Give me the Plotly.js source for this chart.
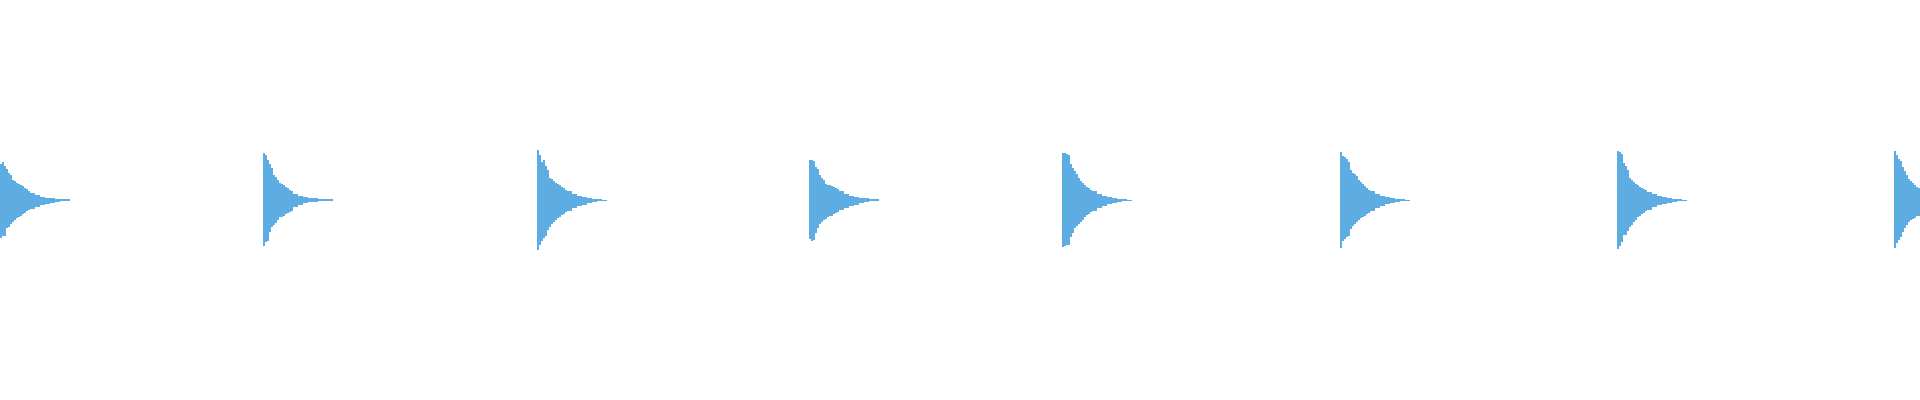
<!DOCTYPE html>
<html>
<head>
<meta charset="utf-8">
<script src="https://cdn.plot.ly/plotly-3.0.1.min.js"></script>
<style>
  html, body { margin: 0; padding: 0; background: #ffffff; }
  #wave { width: 1920px; height: 400px; }
</style>
</head>
<body>
<div id="wave"></div>
<script>
// Onset of each hit (frames) and the frame offsets where the envelope was read
const onsets = [0, 263, 537, 809, 1062, 1340, 1617, 1894];
const offsets = [0, 2, 4, 6, 8, 10, 12, 14, 16, 18, 20, 22, 24, 26, 28, 30, 35, 40, 45, 50, 55, 60, 65];
const tailEnd = 70;

// Envelope amplitudes, upper (positive) and lower (negative) side of each hit
const hit1Top    = [36, 38, 34, 31, 27, 25, 20, 19, 17, 16, 15, 14, 12, 11, 9, 7, 5, 3.5, 2.5, 2, 1.2, 1, 0.8];
const hit1Bottom = [38, 36, 36, 28, 27, 24, 22, 20, 18, 17, 16, 14, 12.5, 11, 10, 8.5, 7, 5, 4, 3, 1.5, 0.8, 0.5];
const hit2Top    = [47, 45, 40, 36, 32, 25, 23, 20, 17, 16, 15, 13, 12, 10, 9, 6, 4, 3, 2, 2, 1.5, 1, 1];
const hit2Bottom = [46, 42, 41, 32, 27, 25, 23, 20, 17, 16.5, 16, 14, 13, 11.5, 10.5, 7, 5, 3, 1.5, 1.5, 1, 0.5, 0.5];
const hit3Top    = [50, 45, 38, 40, 34, 30, 22, 21, 19, 17, 16, 15, 13, 12, 10.5, 9, 6, 4, 3, 2, 1.5, 1, 0.5];
const hit3Bottom = [50, 45, 41, 38, 36, 30, 27, 24, 22, 20, 18, 16.5, 15, 13.5, 12, 10.5, 8, 6, 4.5, 3, 2, 1.2, 0.5];
const hit4Top    = [40, 40, 39, 33, 31, 25, 22, 20, 16, 15, 15, 14.5, 13.5, 12, 11, 9, 6, 4.5, 3.5, 2.5, 1.8, 1.2, 0.6];
const hit4Bottom = [39, 41, 40, 33, 28, 24, 22, 20, 19, 17, 16, 15.5, 14, 12.5, 11.5, 10, 8, 6, 4.5, 3, 2, 1.2, 0.5];
const hit5Top    = [47, 47, 46, 45, 36, 32, 29, 26, 22, 19, 17, 15, 13, 12, 10.5, 9, 6, 4, 3, 2, 1.5, 1, 0.5];
const hit5Bottom = [47, 46, 45, 45, 37, 33, 28, 26, 24, 22, 20, 17, 15, 13.5, 12, 10.5, 8, 6, 4, 3, 2, 1, 0.5];
const hit6Top    = [48, 44, 43, 41, 38, 30, 27, 26, 24, 20, 18, 16, 14, 12, 10.5, 9, 6, 4, 3, 2, 1.5, 1, 0.5];
const hit6Bottom = [48, 41, 39, 37, 36, 29, 26, 24, 22, 20, 18, 17, 15.5, 14, 12.5, 11, 8, 6, 4, 3, 2, 1.2, 0.5];
const hit7Top    = [49, 48, 46, 37, 34, 30, 22, 20, 18, 16, 15, 13.5, 12.5, 11, 10, 8.5, 6, 4, 3, 2, 1.5, 1, 0.5];
const hit7Bottom = [49, 46, 42, 35, 35, 31, 27, 25, 22, 20, 17, 15.5, 14, 12.5, 11, 9.5, 7, 5, 3.5, 2.5, 1.5, 0.8, 0.5];
const hit8Top    = [49, 45, 41, 39, 33, 29, 25, 21, 19, 17, 15, 13, 12, 11];
const hit8Bottom = [48, 43, 40, 37, 32, 28, 25, 22, 20, 19, 18, 16, 15.5, 15];

const hitsTop = [hit1Top, hit2Top, hit3Top, hit4Top, hit5Top, hit6Top, hit7Top, hit8Top];
const hitsBottom = [hit1Bottom, hit2Bottom, hit3Bottom, hit4Bottom, hit5Bottom, hit6Bottom, hit7Bottom, hit8Bottom];

const waveColor = '#5dade2';

// one bar per envelope step, spanning from -bottom to +top
function waveTrace() {
  let x = [];
  let w = [];
  let base = [];
  let h = [];
  onsets.forEach((start, i) => {
    let top = hitsTop[i];
    let bottom = hitsBottom[i];
    top.forEach((amp, j) => {
      let a = start + offsets[j];
      let b = start + (j + 1 < offsets.length ? offsets[j + 1] : tailEnd);
      x.push((a + b) / 2);
      w.push(b - a);
      base.push(-bottom[j]);
      h.push(amp + bottom[j]);
    });
  });
  return {
    type: 'bar',
    x: x,
    y: h,
    base: base,
    width: w,
    marker: {color: waveColor, line: {width: 0}},
    hoverinfo: 'skip'
  };
}

let TESTER = document.getElementById('wave');

var veri = [waveTrace()];

var layout = {
  width: 1920,
  height: 400,
  margin: {l: 0, r: 0, t: 0, b: 0},
  paper_bgcolor: '#ffffff',
  plot_bgcolor: '#ffffff',
  showlegend: false,
  bargap: 0,
  xaxis: {range: [0, 1920], visible: false, fixedrange: true},
  yaxis: {range: [-200, 200], visible: false, fixedrange: true}
};

Plotly.newPlot(TESTER, veri, layout, {staticPlot: true, displayModeBar: false});
</script>
</body>
</html>
